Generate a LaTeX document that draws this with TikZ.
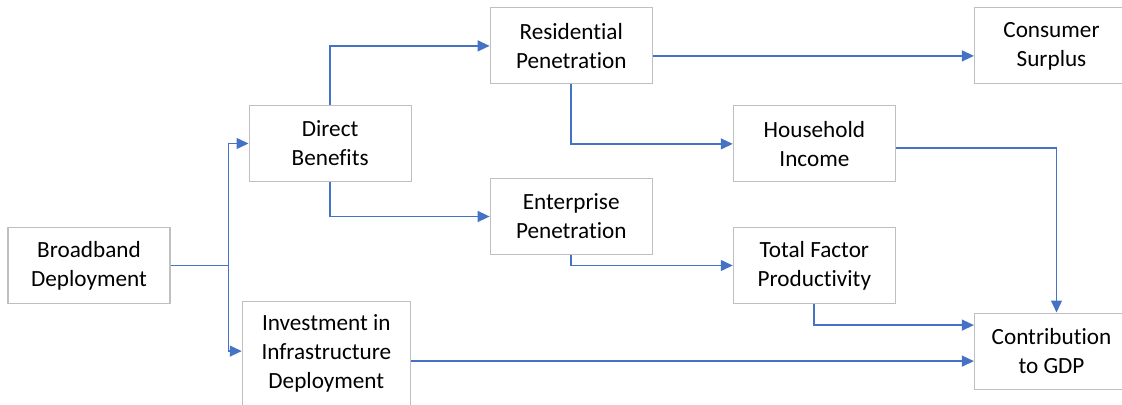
\documentclass[tikz,border=0pt]{standalone}
\usepackage{fontspec}
\setmainfont[Ligatures=NoCommon]{Carlito}
\usepackage{xcolor}
\usetikzlibrary{arrows.meta,positioning,calc}
\definecolor{boxgray}{HTML}{BFBFBF}
\definecolor{linkblue}{HTML}{4472C4}
\tikzset{
  flowbox/.style={draw=boxgray, line width=0.8pt, minimum width=4.05cm, minimum height=1.9cm, align=center, inner sep=2pt, font=\fontsize{16.5}{20.6}\selectfont},
  bluearrow/.style={-{Triangle[length=3mm,width=2.7mm]}, draw=linkblue, line width=1.3pt},
  blueline/.style={draw=linkblue, line width=1.3pt},
}
\begin{document}
\begin{tikzpicture}[node distance=0.6cm and 1.95cm]
  \useasboundingbox (-2.225,-3.4625) rectangle (25.825,6.6375);
  \node[flowbox] (broadband) at (0,0) {Broadband\\Deployment};
  \node[flowbox, right=of broadband, yshift=3.05cm] (direct) {Direct\\Benefits};
  \node[flowbox, right=1.78cm of broadband, yshift=-2.19cm, minimum width=4.2cm, minimum height=2.6cm] (invest) {Investment in\\Infrastructure\\Deployment};
  \node[flowbox, right=of direct, yshift=2.44cm] (resid) {Residential\\Penetration};
  \node[flowbox, right=of direct, yshift=-1.825cm] (enterp) {Enterprise\\Penetration};
  \node[flowbox, right=2cm of resid, yshift=-2.45cm] (income) {Household\\Income};
  \node[flowbox, right=2cm of enterp, yshift=-1.225cm] (tfp) {Total Factor\\Productivity};
  \node[flowbox, right=of income, yshift=2.45cm, minimum width=3.85cm] (surplus) {Consumer\\Surplus};
  \node[flowbox, right=of tfp, yshift=-2.14cm, minimum width=3.85cm] (gdp) {Contribution\\to GDP};

  % split from broadband deployment
  \draw[blueline] (broadband.east) -- ++(1.45cm,0) coordinate (split);
  \draw[bluearrow] (split) |- (direct.west);
  \draw[bluearrow] (split) |- ([yshift=0.05cm]invest.west);

  \draw[bluearrow] (direct.north) |- (resid.west);
  \draw[bluearrow] (direct.south) |- (enterp.west);
  \draw[bluearrow] ([yshift=-0.25cm]resid.east) -- ([yshift=-0.25cm]surplus.west);
  \draw[bluearrow] (resid.south) |- (income.west);
  \draw[bluearrow] (enterp.south) |- (tfp.west);
  \draw[bluearrow] ([yshift=-0.1cm]income.east) -| ([xshift=0.125cm]gdp.north);
  \draw[bluearrow] (tfp.south) |- ([yshift=0.65cm]gdp.west);
  \draw[bluearrow] ([yshift=-0.25cm]gdp.west -| invest.east) -- ([yshift=-0.25cm]gdp.west);
\end{tikzpicture}
\end{document}
